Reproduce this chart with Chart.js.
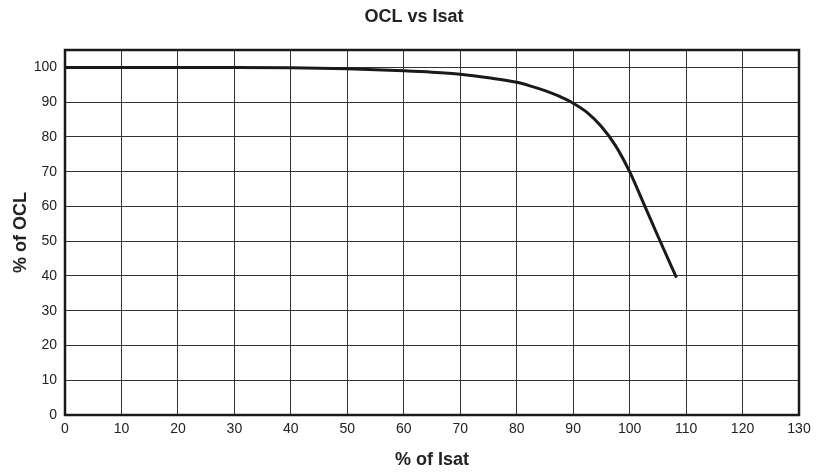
<!DOCTYPE html>
<html>
<head>
<meta charset="utf-8">
<script src="https://cdn.jsdelivr.net/npm/chart.js@4"></script>
<style>
  html, body { margin: 0; padding: 0; background: #fff; }
  #wrap { width: 817px; height: 476px; }
</style>
</head>
<body>
<div id="wrap"><canvas id="chartOcl" width="817" height="476"></canvas></div>
<script>
// values
var isatPct = [0, 10, 20, 30, 40, 50, 60, 65, 70, 75, 80, 82.5, 85, 87.5, 90, 92.5, 95, 97.5, 100, 102.5, 105, 108.3];
var oclPct = [100, 100, 100, 100, 99.9, 99.6, 99, 98.6, 98, 97, 95.7, 94.6, 93.3, 91.7, 89.7, 87, 83, 77.5, 70, 60.8, 51.5, 39.5];

var frame = {
  id: 'frame',
  afterDraw: function (chart) {
    var a = chart.chartArea, c = chart.ctx;
    c.save();
    c.strokeStyle = '#1a1a1a';
    c.lineWidth = 2.5;
    c.strokeRect(a.left, a.top, a.right - a.left, a.bottom - a.top);
    c.restore();
  }
};

var ctx = document.getElementById('chartOcl');
new Chart(ctx, {
  type: 'line',
  data: {
    datasets: [{
      data: isatPct.map(function (x, i) { return { x: x, y: oclPct[i] }; }),
      borderColor: '#1a1a1a',
      borderWidth: 3,
      pointRadius: 0,
      cubicInterpolationMode: 'monotone',
      fill: false
    }]
  },
  options: {
    responsive: false,
    animation: false,
    // left padding pulls the title centre to the right like the reference
    layout: { padding: { left: 29, right: 18 } },
    plugins: {
      legend: { display: false },
      tooltip: { enabled: false },
      title: {
        display: true,
        text: 'OCL vs Isat',
        color: '#222',
        font: { family: 'Liberation Sans, Arial, sans-serif', size: 18, weight: 'bold' },
        padding: { top: 6, bottom: 22.4 }
      }
    },
    scales: {
      x: {
        type: 'linear',
        min: 0,
        max: 130,
        ticks: {
          stepSize: 10,
          color: '#222',
          padding: 6,
          font: { family: 'Liberation Sans, Arial, sans-serif', size: 14 }
        },
        grid: { color: '#333', lineWidth: 1, drawTicks: false },
        border: { display: false },
        title: {
          display: true,
          text: '% of Isat',
          color: '#222',
          font: { family: 'Liberation Sans, Arial, sans-serif', size: 18, weight: 'bold' },
          padding: { top: 0, bottom: 5 }
        },
        afterFit: function (s) { s.height = 61; }
      },
      y: {
        min: 0,
        max: 105,
        ticks: {
          stepSize: 10,
          color: '#222',
          padding: 8,
          font: { family: 'Liberation Sans, Arial, sans-serif', size: 14 }
        },
        afterBuildTicks: function (s) {
          s.ticks = s.ticks.filter(function (t) { return t.value <= 100; });
        },
        grid: { color: '#333', lineWidth: 1, drawTicks: false },
        border: { display: false },
        title: {
          display: true,
          text: '% of OCL',
          color: '#222',
          font: { family: 'Liberation Sans, Arial, sans-serif', size: 18, weight: 'bold' },
          padding: { top: -18.8, bottom: 0 }
        },
        afterFit: function (s) { s.width = 36; }
      }
    }
  },
  plugins: [frame]
});
</script>
</body>
</html>
